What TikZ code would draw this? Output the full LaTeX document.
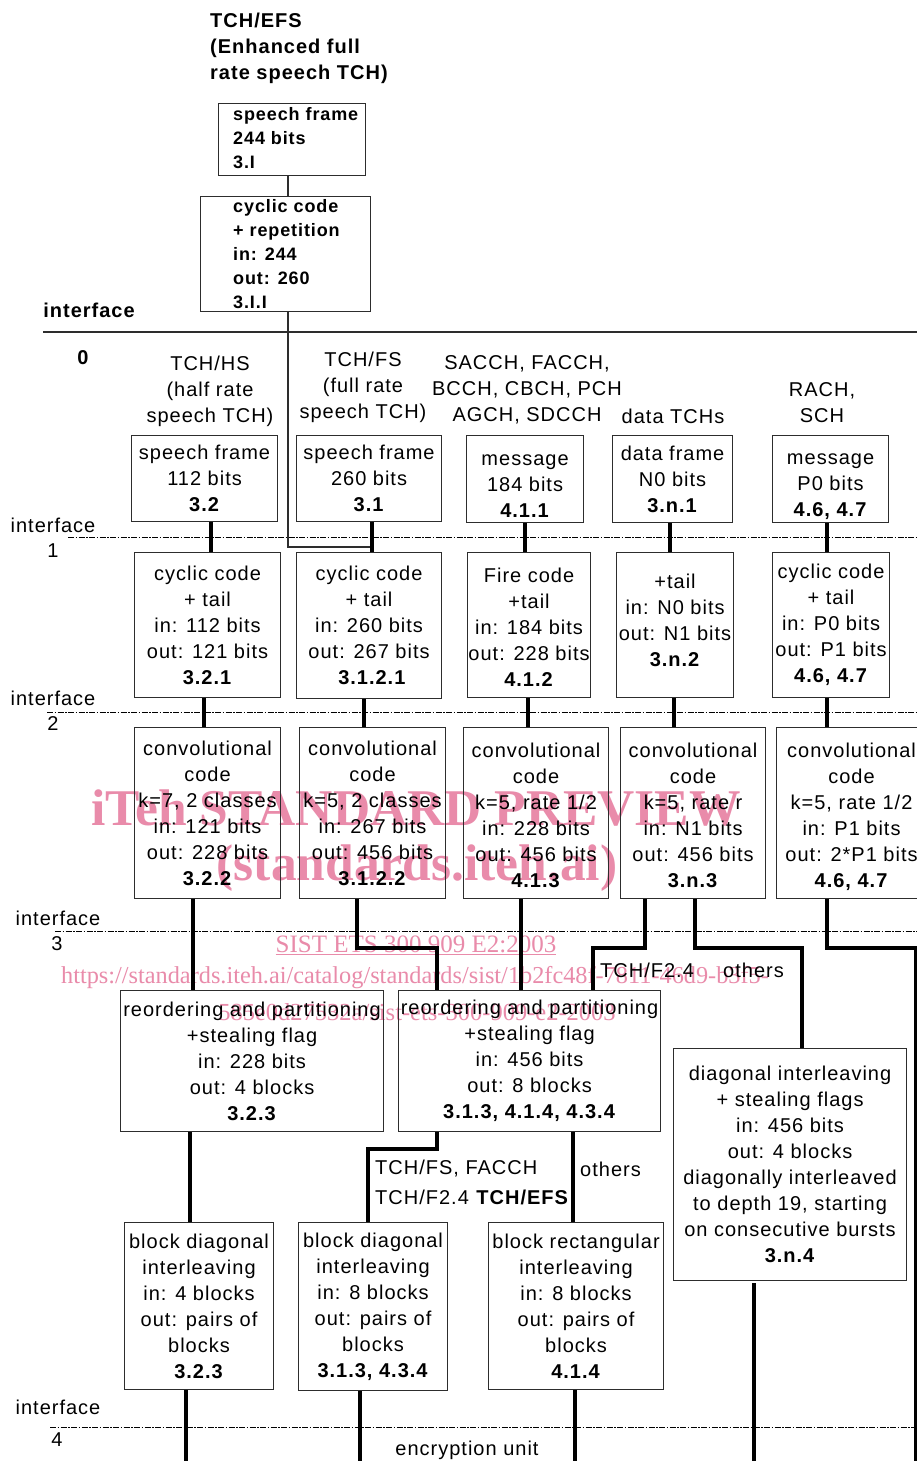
\documentclass[tikz,border=0pt]{standalone}
\usepackage{fontspec}
\setmainfont{Liberation Sans}[LetterSpace=5]
\newfontfamily\wmfont{Liberation Serif}
\usetikzlibrary{calc}
\definecolor{wm}{RGB}{233,139,170}
\definecolor{ln}{RGB}{45,45,45}
\begin{document}
\begin{tikzpicture}[x=1pt,y=-1pt,
 box/.style={draw=ln, line width=1.1pt, anchor=north west, inner sep=0pt, align=center, font=\fontsize{20}{26}\selectfont},
 hdr/.style={align=center, inner sep=0pt, font=\fontsize{20}{26}\selectfont},
 lbl/.style={anchor=west, inner sep=0pt, font=\fontsize{20}{26}\selectfont},
 btxt/.style={anchor=west, align=left, inner sep=0pt, font=\bfseries\fontsize{18}{24}\selectfont},
 conn/.style={line width=3.4pt},
 thinln/.style={draw=ln, line width=1.1pt},
 iface/.style={line width=0.8pt, dash pattern=on 6pt off 1.5pt on 1.5pt off 1.5pt},
 wmk/.style={text=wm, inner sep=0pt}]
\fill[white] (0,0) rectangle (917,1461);
\useasboundingbox (0,0) rectangle (917,1461);

% watermark
\node[wmk, font=\wmfont\bfseries\fontsize{51.5}{52}\selectfont] (wm1) at (416,808) {iTeh STANDARD PREVIEW};
\node[wmk, font=\wmfont\bfseries\fontsize{51.5}{52}\selectfont] (wm2) at (417,868) {(standards.iteh.ai)};
\node[wmk, font=\wmfont\fontsize{25}{26}\selectfont] (wm3) at (416,945) {\underline{SIST ETS 300 909 E2:2003}};
\node[wmk, font=\wmfont\fontsize{24.3}{26}\selectfont] (wm4) at (415,978) {https://standards.iteh.ai/catalog/standards/sist/1b2fc48f-7811-46d9-b3f5-};
\node[wmk, font=\wmfont\fontsize{24.5}{26}\selectfont] (wm5) at (417,1012) {585e0d27532a/sist-ets-300-909-e2-2003};

% top EFS part
\node[anchor=west, align=left, inner sep=0pt, font=\bfseries\fontsize{20}{26}\selectfont] (title) at (210,48) {TCH/EFS\\(Enhanced full\\rate speech TCH)};
\node[box, minimum width=147, minimum height=72] (efs1) at (218,103) {};
\node[btxt] (efs1t) at (233,138) {speech frame\\244 bits\\3.I};
\node[box, minimum width=170, minimum height=115] (efs2) at (200,196) {};
\node[btxt] (efs2t) at (233,254) {cyclic code\\+ repetition\\in: 244\\out: 260\\3.I.I};
\node[anchor=center, inner sep=0pt, font=\bfseries\fontsize{20}{26}\selectfont] (if0) at (89,310) {interface};
\node[anchor=center, inner sep=0pt, font=\bfseries\fontsize{20}{26}\selectfont] (if0n) at (83,358) {0};
\draw[thinln] (43,332) -- (917,332);

% interface lines and labels
\draw[iface] (68,537) -- (917,537);
\draw[iface] (47,712) -- (917,712);
\draw[iface] (55,931) -- (917,931);
\draw[iface] (50,1427) -- (917,1427);
\node[hdr] (if1) at (53,525) {interface};
\node[hdr] (if1n) at (53,551) {1};
\node[hdr] (if2) at (53,698) {interface};
\node[hdr] (if2n) at (53,724) {2};
\node[hdr] (if3) at (58,918) {interface};
\node[hdr] (if3n) at (57,944) {3};
\node[hdr] (if4) at (58,1407) {interface};
\node[hdr] (if4n) at (57,1440) {4};
\node[hdr] (enc) at (467,1450) {encryption unit};

% headers
\node[hdr] (hhs) at (210,391) {TCH/HS\\(half rate\\speech TCH)};
\node[hdr] (hfs) at (363,387) {TCH/FS\\(full rate\\speech TCH)};
\node[hdr] (hsa) at (527,390) {SACCH, FACCH,\\BCCH, CBCH, PCH\\AGCH, SDCCH};
\node[hdr] (hda) at (673,416) {data TCHs};
\node[hdr] (hra) at (822,403) {RACH,\\SCH};

% row 1
\node[box, minimum width=146, minimum height=86] (hs1) at (131,435) {speech frame\\112 bits\\\textbf{3.2}};
\node[box, minimum width=145, minimum height=86] (fs1) at (296,435) {speech frame\\260 bits\\\textbf{3.1}};
\node[box, minimum width=117, minimum height=87] (sa1) at (466,435) {\rule{0pt}{25pt}message\\184 bits\\\textbf{4.1.1}};
\node[box, minimum width=120, minimum height=87] (da1) at (612,435) {data frame\\N0 bits\\\textbf{3.n.1}};
\node[box, minimum width=116, minimum height=87] (ra1) at (772,435) {\rule{0pt}{25pt}message\\P0 bits\\\textbf{4.6, 4.7}};

% row 2
\node[box, minimum width=146, minimum height=145] (hs2) at (134,552) {cyclic code\\+ tail\\in: 112 bits\\out: 121 bits\\\textbf{3.2.1}};
\node[box, minimum width=145, minimum height=146] (fs2) at (296,552) {cyclic code\\+ tail\\in: 260 bits\\out: 267 bits\\\textbf{\ 3.1.2.1}};
\node[box, minimum width=123, minimum height=145] (sa2) at (467,552) {\rule{0pt}{19pt}Fire code\\+tail\\in: 184 bits\\out: 228 bits\\\textbf{4.1.2}};
\node[box, minimum width=117, minimum height=145] (da2) at (616,552) {+tail\\in: N0 bits\\out: N1 bits\\\textbf{3.n.2}\rule[-10pt]{0pt}{10pt}};
\node[box, minimum width=117, minimum height=145] (ra2) at (772,552) {cyclic code\\+ tail\\in: P0 bits\\out: P1 bits\\\textbf{4.6, 4.7}};

% row 3
\node[box, minimum width=146, minimum height=171] (hs3) at (134,727) {convolutional\\code\\k=7, 2 classes\\in: 121 bits\\out: 228 bits\\\textbf{3.2.2}};
\node[box, minimum width=146, minimum height=171] (fs3) at (299,727) {convolutional\\code\\k=5, 2 classes\\in: 267 bits\\out: 456 bits\\\textbf{3.1.2.2}};
\node[box, minimum width=145, minimum height=171] (sa3) at (463,727) {\rule{0pt}{20pt}convolutional\\code\\k=5, rate 1/2\\in: 228 bits\\out: 456 bits\\\textbf{4.1.3}};
\node[box, minimum width=145, minimum height=171] (da3) at (620,727) {\rule{0pt}{20pt}convolutional\\code\\k=5, rate r\\in: N1 bits\\out: 456 bits\\\textbf{3.n.3}};
\node[box, minimum width=150, minimum height=171] (ra3) at (776,727) {\rule{0pt}{22pt}convolutional\\code\\k=5, rate 1/2\\in: P1 bits\\out: 2*P1 bits\\\textbf{4.6, 4.7}};

% row 4
\node[box, minimum width=263, minimum height=141] (ro1) at (120,990) {reordering and partitioning\\+stealing flag\\in: 228 bits\\out: 4 blocks\\\textbf{3.2.3}};
\node[box, minimum width=262, minimum height=141] (ro2) at (398,990) {reordering and partitioning\\+stealing flag\\in: 456 bits\\out: 8 blocks\\\textbf{3.1.3, 4.1.4, 4.3.4}};
\node[box, minimum width=233, minimum height=232] (di) at (673,1048) {diagonal interleaving\\+ stealing flags\\in: 456 bits\\out: 4 blocks\\diagonally interleaved\\to depth 19, starting\\on consecutive bursts\\\textbf{3.n.4}};

% row 5
\node[box, minimum width=149, minimum height=167] (bd1) at (124,1222) {block diagonal\\interleaving\\in: 4 blocks\\out: pairs of\\blocks\\\textbf{3.2.3}};
\node[box, minimum width=149, minimum height=168] (bd2) at (298,1222) {block diagonal\\interleaving\\in: 8 blocks\\out: pairs of\\blocks\\\textbf{3.1.3, 4.3.4}};
\node[box, minimum width=175, minimum height=167] (br) at (488,1222) {block rectangular\\interleaving\\in: 8 blocks\\out: pairs of\\blocks\\\textbf{4.1.4}};

% branch labels
\node[lbl] (l1) at (600,970) {TCH/F2.4};
\node[lbl] (l2) at (723,970) {others};
\node[lbl] (l3) at (375,1169) {TCH/FS, FACCH};
\node[lbl] (l4) at (375,1197) {TCH/F2.4 \textbf{TCH/EFS}};
\node[lbl] (l5) at (580,1169) {others};

% column coordinates
\foreach \c in {186,190,193,204,211,288,357,360,364,372,437,521,525,528,573,575,645,670,674,695,754,827}
  \coordinate (c\c) at (\c,0);
\coordinate (j1) at (288,547);
\coordinate (j2) at (372,547);
\coordinate (k437) at (437,948);
\coordinate (k593) at (593,948);
\coordinate (k802) at (802,948);
\coordinate (k916) at (915.5,948);
\coordinate (e916) at (915.5,1470);
\coordinate (k368) at (368,1149);
\coordinate (e186) at (186,1470);
\coordinate (e360) at (360,1470);
\coordinate (e575) at (575,1470);
\coordinate (e754) at (754,1470);
\coordinate (s754) at (754,1283);

% thin EFS connectors
\draw[thinln] (efs1.south -| c288) -- (efs2.north -| c288);
\draw[thinln] (efs2.south -| c288) -- (j1) -- (j2);

% thick connectors row1 -> row2
\draw[conn] (hs1.south -| c211) -- (hs2.north -| c211);
\draw[conn] (fs1.south -| c372) -- (fs2.north -| c372);
\draw[conn] (sa1.south -| c525) -- (sa2.north -| c525);
\draw[conn] (da1.south -| c670) -- (da2.north -| c670);
\draw[conn] (ra1.south -| c827) -- (ra2.north -| c827);
% row2 -> row3
\draw[conn] (hs2.south -| c204) -- (hs3.north -| c204);
\draw[conn] (fs2.south -| c364) -- (fs3.north -| c364);
\draw[conn] (sa2.south -| c528) -- (sa3.north -| c528);
\draw[conn] (da2.south -| c674) -- (da3.north -| c674);
\draw[conn] (ra2.south -| c827) -- (ra3.north -| c827);
% row3 -> row4
\draw[conn] (hs3.south -| c193) -- (ro1.north -| c193);
\draw[conn] (fs3.south -| c357) |- (k437) -- (ro2.north -| k437);
\draw[conn] (sa3.south -| c521) -- (ro2.north -| c521);
\draw[conn] (da3.south -| c645) |- (k593) -- (ro2.north -| k593);
\draw[conn] (da3.south -| c695) |- (k802) -- (di.north -| k802);
\draw[conn] (ra3.south -| c827) |- (k916) -- (e916);
% row4 -> row5
\draw[conn] (ro1.south -| c190) -- (bd1.north -| c190);
\draw[conn] (ro2.south -| c437) |- (k368) -- (bd2.north -| k368);
\draw[conn] (ro2.south -| c573) -- (br.north -| c573);
% bottom
\draw[conn] (bd1.south -| c186) -- (e186);
\draw[conn] (bd2.south -| c360) -- (e360);
\draw[conn] (br.south -| c575) -- (e575);
\draw[conn] (s754) -- (e754);
\end{tikzpicture}
\end{document}
